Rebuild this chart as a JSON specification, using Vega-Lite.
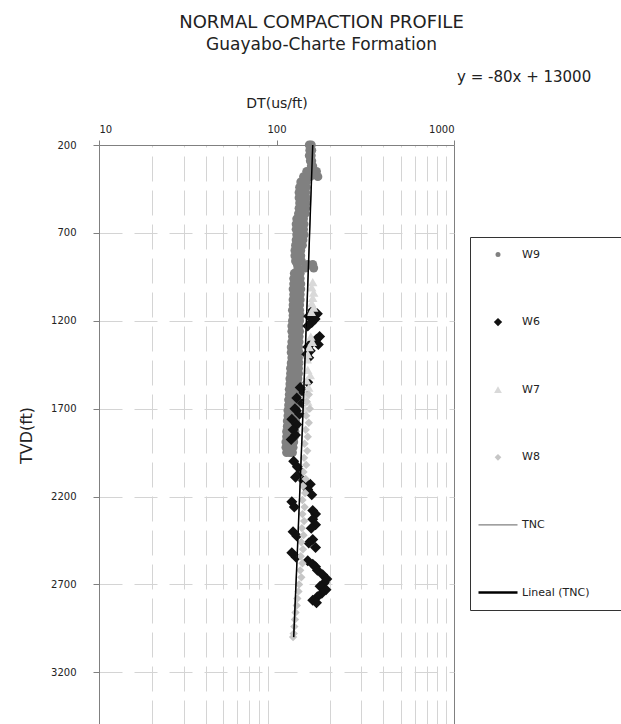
{
  "$schema": "https://vega.github.io/schema/vega-lite/v6.json",
  "width": 355,
  "height": 580,
  "autosize": "none",
  "padding": {"left": 99, "top": 145, "right": 167, "bottom": 0},
  "background": "white",
  "config": {
    "font": "DejaVu Sans",
    "view": {"stroke": "#808080", "strokeWidth": 1}
  },
  "title": {
    "text": "NORMAL COMPACTION PROFILE",
    "subtitle": "Guayabo-Charte Formation",
    "anchor": "middle",
    "frame": "group",
    "dx": 45,
    "offset": 17,
    "fontSize": 18,
    "subtitleFontSize": 17,
    "fontWeight": "normal",
    "color": "#222222",
    "subtitleColor": "#222222",
    "subtitlePadding": 5
  },
  "datasets": {
    "pts": [
      {"Series":"W9","DT":153,"TVD":200},{"Series":"W9","DT":157,"TVD":200},
      {"Series":"W9","DT":154,"TVD":230},{"Series":"W9","DT":158,"TVD":230},
      {"Series":"W9","DT":153,"TVD":260},{"Series":"W9","DT":157,"TVD":260},
      {"Series":"W9","DT":155,"TVD":290},{"Series":"W9","DT":158,"TVD":290},
      {"Series":"W9","DT":157,"TVD":320},{"Series":"W9","DT":160,"TVD":320},
      {"Series":"W9","DT":148,"TVD":350},{"Series":"W9","DT":160,"TVD":350},{"Series":"W9","DT":168,"TVD":350},
      {"Series":"W9","DT":142,"TVD":380},{"Series":"W9","DT":155,"TVD":380},{"Series":"W9","DT":171,"TVD":380},
      {"Series":"W9","DT":137,"TVD":410},{"Series":"W9","DT":142,"TVD":410},{"Series":"W9","DT":147,"TVD":410},
      {"Series":"W9","DT":135,"TVD":440},{"Series":"W9","DT":141,"TVD":440},{"Series":"W9","DT":147,"TVD":440},
      {"Series":"W9","DT":134,"TVD":470},{"Series":"W9","DT":140,"TVD":470},{"Series":"W9","DT":146,"TVD":470},
      {"Series":"W9","DT":134,"TVD":500},{"Series":"W9","DT":140,"TVD":500},{"Series":"W9","DT":147,"TVD":500},
      {"Series":"W9","DT":135,"TVD":530},{"Series":"W9","DT":141,"TVD":530},{"Series":"W9","DT":147,"TVD":530},
      {"Series":"W9","DT":134,"TVD":560},{"Series":"W9","DT":140,"TVD":560},{"Series":"W9","DT":146,"TVD":560},
      {"Series":"W9","DT":133,"TVD":590},{"Series":"W9","DT":139,"TVD":590},{"Series":"W9","DT":145,"TVD":590},
      {"Series":"W9","DT":130,"TVD":620},{"Series":"W9","DT":136,"TVD":620},{"Series":"W9","DT":142,"TVD":620},
      {"Series":"W9","DT":129,"TVD":650},{"Series":"W9","DT":135,"TVD":650},{"Series":"W9","DT":143,"TVD":650},
      {"Series":"W9","DT":129,"TVD":680},{"Series":"W9","DT":136,"TVD":680},{"Series":"W9","DT":142,"TVD":680},
      {"Series":"W9","DT":130,"TVD":710},{"Series":"W9","DT":136,"TVD":710},{"Series":"W9","DT":143,"TVD":710},
      {"Series":"W9","DT":129,"TVD":740},{"Series":"W9","DT":135,"TVD":740},{"Series":"W9","DT":141,"TVD":740},
      {"Series":"W9","DT":128,"TVD":770},{"Series":"W9","DT":134,"TVD":770},{"Series":"W9","DT":140,"TVD":770},
      {"Series":"W9","DT":127,"TVD":800},{"Series":"W9","DT":132,"TVD":800},{"Series":"W9","DT":137,"TVD":800},
      {"Series":"W9","DT":127,"TVD":830},{"Series":"W9","DT":131,"TVD":830},{"Series":"W9","DT":137,"TVD":830},
      {"Series":"W9","DT":128,"TVD":860},{"Series":"W9","DT":132,"TVD":860},{"Series":"W9","DT":138,"TVD":860},
      {"Series":"W9","DT":131,"TVD":880},{"Series":"W9","DT":150,"TVD":880},{"Series":"W9","DT":160,"TVD":880},
      {"Series":"W9","DT":132,"TVD":900},{"Series":"W9","DT":145,"TVD":900},{"Series":"W9","DT":162,"TVD":900},
      {"Series":"W9","DT":126,"TVD":930},{"Series":"W9","DT":131,"TVD":930},{"Series":"W9","DT":136,"TVD":930},
      {"Series":"W9","DT":125,"TVD":960},{"Series":"W9","DT":130,"TVD":960},{"Series":"W9","DT":136,"TVD":960},
      {"Series":"W9","DT":125,"TVD":990},{"Series":"W9","DT":131,"TVD":990},{"Series":"W9","DT":137,"TVD":990},
      {"Series":"W9","DT":124,"TVD":1020},{"Series":"W9","DT":130,"TVD":1020},{"Series":"W9","DT":137,"TVD":1020},
      {"Series":"W9","DT":125,"TVD":1050},{"Series":"W9","DT":130,"TVD":1050},{"Series":"W9","DT":136,"TVD":1050},
      {"Series":"W9","DT":124,"TVD":1080},{"Series":"W9","DT":129,"TVD":1080},{"Series":"W9","DT":136,"TVD":1080},
      {"Series":"W9","DT":124,"TVD":1110},{"Series":"W9","DT":130,"TVD":1110},{"Series":"W9","DT":135,"TVD":1110},
      {"Series":"W9","DT":123,"TVD":1140},{"Series":"W9","DT":129,"TVD":1140},{"Series":"W9","DT":135,"TVD":1140},
      {"Series":"W9","DT":124,"TVD":1170},{"Series":"W9","DT":128,"TVD":1170},{"Series":"W9","DT":136,"TVD":1170},
      {"Series":"W9","DT":123,"TVD":1200},{"Series":"W9","DT":128,"TVD":1200},{"Series":"W9","DT":135,"TVD":1200},
      {"Series":"W9","DT":122,"TVD":1230},{"Series":"W9","DT":129,"TVD":1230},{"Series":"W9","DT":134,"TVD":1230},
      {"Series":"W9","DT":122,"TVD":1260},{"Series":"W9","DT":128,"TVD":1260},{"Series":"W9","DT":135,"TVD":1260},
      {"Series":"W9","DT":123,"TVD":1290},{"Series":"W9","DT":127,"TVD":1290},{"Series":"W9","DT":134,"TVD":1290},
      {"Series":"W9","DT":122,"TVD":1320},{"Series":"W9","DT":127,"TVD":1320},{"Series":"W9","DT":134,"TVD":1320},
      {"Series":"W9","DT":121,"TVD":1350},{"Series":"W9","DT":128,"TVD":1350},{"Series":"W9","DT":133,"TVD":1350},
      {"Series":"W9","DT":121,"TVD":1380},{"Series":"W9","DT":127,"TVD":1380},{"Series":"W9","DT":134,"TVD":1380},
      {"Series":"W9","DT":122,"TVD":1410},{"Series":"W9","DT":126,"TVD":1410},{"Series":"W9","DT":133,"TVD":1410},
      {"Series":"W9","DT":121,"TVD":1440},{"Series":"W9","DT":126,"TVD":1440},{"Series":"W9","DT":134,"TVD":1440},
      {"Series":"W9","DT":120,"TVD":1470},{"Series":"W9","DT":127,"TVD":1470},{"Series":"W9","DT":133,"TVD":1470},
      {"Series":"W9","DT":120,"TVD":1500},{"Series":"W9","DT":126,"TVD":1500},{"Series":"W9","DT":133,"TVD":1500},
      {"Series":"W9","DT":119,"TVD":1530},{"Series":"W9","DT":125,"TVD":1530},{"Series":"W9","DT":132,"TVD":1530},
      {"Series":"W9","DT":119,"TVD":1560},{"Series":"W9","DT":125,"TVD":1560},{"Series":"W9","DT":132,"TVD":1560},
      {"Series":"W9","DT":118,"TVD":1590},{"Series":"W9","DT":124,"TVD":1590},{"Series":"W9","DT":131,"TVD":1590},
      {"Series":"W9","DT":118,"TVD":1620},{"Series":"W9","DT":124,"TVD":1620},{"Series":"W9","DT":131,"TVD":1620},
      {"Series":"W9","DT":117,"TVD":1650},{"Series":"W9","DT":123,"TVD":1650},{"Series":"W9","DT":130,"TVD":1650},
      {"Series":"W9","DT":117,"TVD":1680},{"Series":"W9","DT":123,"TVD":1680},{"Series":"W9","DT":130,"TVD":1680},
      {"Series":"W9","DT":116,"TVD":1710},{"Series":"W9","DT":122,"TVD":1710},{"Series":"W9","DT":129,"TVD":1710},
      {"Series":"W9","DT":116,"TVD":1740},{"Series":"W9","DT":122,"TVD":1740},{"Series":"W9","DT":129,"TVD":1740},
      {"Series":"W9","DT":115,"TVD":1770},{"Series":"W9","DT":121,"TVD":1770},{"Series":"W9","DT":128,"TVD":1770},
      {"Series":"W9","DT":115,"TVD":1800},{"Series":"W9","DT":121,"TVD":1800},{"Series":"W9","DT":128,"TVD":1800},
      {"Series":"W9","DT":114,"TVD":1830},{"Series":"W9","DT":120,"TVD":1830},{"Series":"W9","DT":127,"TVD":1830},
      {"Series":"W9","DT":114,"TVD":1860},{"Series":"W9","DT":120,"TVD":1860},{"Series":"W9","DT":126,"TVD":1860},
      {"Series":"W9","DT":113,"TVD":1890},{"Series":"W9","DT":119,"TVD":1890},{"Series":"W9","DT":125,"TVD":1890},
      {"Series":"W9","DT":113,"TVD":1920},{"Series":"W9","DT":118,"TVD":1920},{"Series":"W9","DT":124,"TVD":1920},
      {"Series":"W9","DT":114,"TVD":1950},{"Series":"W9","DT":119,"TVD":1950},{"Series":"W9","DT":123,"TVD":1950},

      {"Series":"W6","DT":160,"TVD":1140},{"Series":"W6","DT":170,"TVD":1160},{"Series":"W6","DT":152,"TVD":1175},
      {"Series":"W6","DT":165,"TVD":1190},{"Series":"W6","DT":158,"TVD":1210},{"Series":"W6","DT":150,"TVD":1230},
      {"Series":"W6","DT":175,"TVD":1290},{"Series":"W6","DT":168,"TVD":1305},{"Series":"W6","DT":160,"TVD":1320},
      {"Series":"W6","DT":172,"TVD":1335},{"Series":"W6","DT":150,"TVD":1350},{"Series":"W6","DT":155,"TVD":1370},
      {"Series":"W6","DT":148,"TVD":1390},{"Series":"W6","DT":152,"TVD":1410},
      {"Series":"W6","DT":150,"TVD":1550},{"Series":"W6","DT":136,"TVD":1580},{"Series":"W6","DT":143,"TVD":1610},
      {"Series":"W6","DT":130,"TVD":1640},{"Series":"W6","DT":140,"TVD":1670},{"Series":"W6","DT":127,"TVD":1700},
      {"Series":"W6","DT":135,"TVD":1730},{"Series":"W6","DT":122,"TVD":1760},{"Series":"W6","DT":130,"TVD":1790},
      {"Series":"W6","DT":124,"TVD":1820},{"Series":"W6","DT":128,"TVD":1850},{"Series":"W6","DT":121,"TVD":1875},
      {"Series":"W6","DT":125,"TVD":2000},{"Series":"W6","DT":131,"TVD":2030},{"Series":"W6","DT":137,"TVD":2060},
      {"Series":"W6","DT":128,"TVD":2090},{"Series":"W6","DT":142,"TVD":2110},{"Series":"W6","DT":155,"TVD":2130},
      {"Series":"W6","DT":150,"TVD":2160},{"Series":"W6","DT":158,"TVD":2190},
      {"Series":"W6","DT":122,"TVD":2230},{"Series":"W6","DT":126,"TVD":2260},{"Series":"W6","DT":160,"TVD":2280},
      {"Series":"W6","DT":166,"TVD":2300},{"Series":"W6","DT":160,"TVD":2330},{"Series":"W6","DT":166,"TVD":2360},
      {"Series":"W6","DT":157,"TVD":2380},{"Series":"W6","DT":124,"TVD":2400},{"Series":"W6","DT":130,"TVD":2425},
      {"Series":"W6","DT":160,"TVD":2445},{"Series":"W6","DT":152,"TVD":2465},{"Series":"W6","DT":166,"TVD":2490},
      {"Series":"W6","DT":122,"TVD":2520},{"Series":"W6","DT":129,"TVD":2545},{"Series":"W6","DT":150,"TVD":2565},
      {"Series":"W6","DT":160,"TVD":2585},{"Series":"W6","DT":166,"TVD":2600},
      {"Series":"W6","DT":170,"TVD":2620},{"Series":"W6","DT":182,"TVD":2645},{"Series":"W6","DT":192,"TVD":2670},
      {"Series":"W6","DT":186,"TVD":2690},{"Series":"W6","DT":176,"TVD":2710},{"Series":"W6","DT":190,"TVD":2730},
      {"Series":"W6","DT":180,"TVD":2750},{"Series":"W6","DT":170,"TVD":2770},{"Series":"W6","DT":160,"TVD":2790},
      {"Series":"W6","DT":168,"TVD":2805},

      {"Series":"W7","DT":160,"TVD":980},{"Series":"W7","DT":158,"TVD":1010},{"Series":"W7","DT":162,"TVD":1040},
      {"Series":"W7","DT":160,"TVD":1070},{"Series":"W7","DT":158,"TVD":1100},{"Series":"W7","DT":162,"TVD":1125},
      {"Series":"W7","DT":157,"TVD":1150},{"Series":"W7","DT":156,"TVD":1290},{"Series":"W7","DT":159,"TVD":1320},
      {"Series":"W7","DT":153,"TVD":1350},{"Series":"W7","DT":150,"TVD":1390},{"Series":"W7","DT":149,"TVD":1420},
      {"Series":"W7","DT":150,"TVD":1480},{"Series":"W7","DT":155,"TVD":1510},{"Series":"W7","DT":148,"TVD":1540},
      {"Series":"W7","DT":152,"TVD":1580},{"Series":"W7","DT":146,"TVD":1620},{"Series":"W7","DT":150,"TVD":1660},
      {"Series":"W7","DT":145,"TVD":1700},

      {"Series":"W8","DT":152,"TVD":1620},{"Series":"W8","DT":148,"TVD":1660},{"Series":"W8","DT":154,"TVD":1700},
      {"Series":"W8","DT":147,"TVD":1740},{"Series":"W8","DT":152,"TVD":1780},{"Series":"W8","DT":146,"TVD":1820},
      {"Series":"W8","DT":150,"TVD":1860},{"Series":"W8","DT":144,"TVD":1900},{"Series":"W8","DT":149,"TVD":1940},
      {"Series":"W8","DT":143,"TVD":1980},{"Series":"W8","DT":147,"TVD":2020},{"Series":"W8","DT":142,"TVD":2060},
      {"Series":"W8","DT":146,"TVD":2100},{"Series":"W8","DT":141,"TVD":2140},{"Series":"W8","DT":145,"TVD":2180},
      {"Series":"W8","DT":140,"TVD":2220},{"Series":"W8","DT":144,"TVD":2260},{"Series":"W8","DT":140,"TVD":2300},
      {"Series":"W8","DT":143,"TVD":2340},{"Series":"W8","DT":139,"TVD":2380},{"Series":"W8","DT":142,"TVD":2420},
      {"Series":"W8","DT":138,"TVD":2460},{"Series":"W8","DT":141,"TVD":2500},{"Series":"W8","DT":137,"TVD":2540},
      {"Series":"W8","DT":140,"TVD":2580},{"Series":"W8","DT":136,"TVD":2620},{"Series":"W8","DT":138,"TVD":2660},
      {"Series":"W8","DT":134,"TVD":2700},{"Series":"W8","DT":133,"TVD":2740},{"Series":"W8","DT":131,"TVD":2780},
      {"Series":"W8","DT":130,"TVD":2820},{"Series":"W8","DT":128,"TVD":2860},{"Series":"W8","DT":127,"TVD":2900},
      {"Series":"W8","DT":126,"TVD":2940},{"Series":"W8","DT":125,"TVD":2980},{"Series":"W8","DT":124,"TVD":3000}
    ],
    "lines": [
      {"Series":"TNC","DT":160,"TVD":200},{"Series":"TNC","DT":150,"TVD":1000},{"Series":"TNC","DT":140,"TVD":1800},
      {"Series":"TNC","DT":130,"TVD":2600},{"Series":"TNC","DT":125,"TVD":3000},
      {"Series":"Lineal (TNC)","DT":160,"TVD":200},{"Series":"Lineal (TNC)","DT":150,"TVD":1000},
      {"Series":"Lineal (TNC)","DT":140,"TVD":1800},{"Series":"Lineal (TNC)","DT":130,"TVD":2600},
      {"Series":"Lineal (TNC)","DT":125,"TVD":3000}
    ],
    "ann": [
      {"label":"y = -80x + 13000","DT":1000,"TVD":200}
    ]
  },
  "resolve": {"axis": {"x": "independent", "y": "independent"}},
  "encoding": {
    "color": {"field": "Series", "type": "nominal",
      "scale": {"domain": ["W9","W6","W7","W8","TNC","Lineal (TNC)"], "range": ["#808080","#111111","#d9d9d9","#c6c6c6","#808080","#000000"]},
      "legend": {
        "title": "WW", "titleOrient": "right", "titleOpacity": 0, "titleFontSize": 11, "titlePadding": 5,
        "orient": "none", "legendX": 371, "legendY": 92,
        "strokeColor": "#333333", "padding": 12, "rowPadding": 55.6,
        "symbolSize": 1521, "symbolStrokeWidth": 1.5,
        "labelFontSize": 11, "labelColor": "#222222", "labelOffset": 18.5, "symbolOffset": 10.5,
        "encode": {"symbols": {"update": {
          "shape": {"signal": "scale('shape', datum.value)"},
          "size": {"signal": "datum.value === 'W9' ? 25 : datum.value === 'W6' ? 70 : datum.value === 'W7' ? 60 : datum.value === 'W8' ? 45 : 1521"},
          "fill": {"signal": "scale('color', datum.value)"},
          "stroke": {"signal": "scale('color', datum.value)"},
          "strokeWidth": {"signal": "datum.value === 'Lineal (TNC)' ? 2.5 : datum.value === 'TNC' ? 1.2 : 0"},
          "opacity": {"value": 1}
        }}}
      }},
    "shape": {"field": "Series", "type": "nominal",
      "scale": {"domain": ["W9","W6","W7","W8","TNC","Lineal (TNC)"], "range": ["circle","diamond","triangle-up","diamond","stroke","stroke"]},
      "legend": null}
  },
  "layer": [
    {
      "data": {"name": "lines"},
      "mark": {"type": "rule", "opacity": 0},
      "encoding": {
        "x": {"field": "DT", "type": "quantitative", "scale": {"type": "log", "domain": [10, 1000]},
          "axis": {"orient": "bottom", "values": [20,30,40,50,60,70,80,90,200,300,400,500,600,700,800,900],
            "grid": true, "gridColor": "#d4d4d4", "gridDash": [25, 9], "gridWidth": 1,
            "domain": false, "ticks": false, "labels": false, "title": null}},
        "y": {"field": "TVD", "type": "quantitative", "scale": {"domain": [200, 3500], "reverse": true, "nice": false, "zero": false},
          "axis": {"orient": "left", "values": [200,700,1200,1700,2200,2700,3200], "format": "d",
            "grid": true, "gridColor": "#d4d4d4", "gridDash": [23, 12], "gridWidth": 1,
            "domainColor": "#808080", "tickColor": "#808080", "tickSize": 6,
            "labelFontSize": 10, "labelColor": "#222222", "labelPadding": 17,
            "title": "TVD(ft)", "titleFontSize": 16, "titleFontWeight": "normal", "titleColor": "#222222", "titlePadding": 16}}
      }
    },
    {
      "data": {"name": "pts"},
      "transform": [{"filter": "datum.Series === 'W9'"}],
      "mark": {"type": "point", "filled": true, "opacity": 1, "size": 80},
      "encoding": {
        "x": {"field": "DT", "type": "quantitative",
          "axis": {"orient": "top", "values": [10, 100, 1000], "format": "d", "grid": false,
            "domainColor": "#808080", "tickColor": "#808080", "tickSize": 5,
            "labelFontSize": 10, "labelColor": "#222222", "labelPadding": 6,
            "title": "DT(us/ft)", "titleFontSize": 14, "titleFontWeight": "normal", "titleColor": "#222222", "titlePadding": 14}},
        "y": {"field": "TVD", "type": "quantitative", "axis": null}
      }
    },
    {
      "data": {"name": "pts"},
      "transform": [{"filter": "datum.Series === 'W6'"}],
      "mark": {"type": "point", "filled": true, "opacity": 1, "size": 121},
      "encoding": {
        "x": {"field": "DT", "type": "quantitative", "axis": null},
        "y": {"field": "TVD", "type": "quantitative", "axis": null}
      }
    },
    {
      "data": {"name": "pts"},
      "transform": [{"filter": "datum.Series === 'W7'"}],
      "mark": {"type": "point", "filled": true, "opacity": 1, "size": 90},
      "encoding": {
        "x": {"field": "DT", "type": "quantitative", "axis": null},
        "y": {"field": "TVD", "type": "quantitative", "axis": null}
      }
    },
    {
      "data": {"name": "pts"},
      "transform": [{"filter": "datum.Series === 'W8'"}],
      "mark": {"type": "point", "filled": true, "opacity": 1, "size": 70},
      "encoding": {
        "x": {"field": "DT", "type": "quantitative", "axis": null},
        "y": {"field": "TVD", "type": "quantitative", "axis": null}
      }
    },
    {
      "data": {"name": "lines"},
      "mark": {"type": "line"},
      "encoding": {
        "x": {"field": "DT", "type": "quantitative", "axis": null},
        "y": {"field": "TVD", "type": "quantitative", "axis": null},
        "order": {"field": "TVD", "type": "quantitative"},
        "strokeWidth": {"field": "Series", "type": "nominal", "scale": {"domain": ["TNC", "Lineal (TNC)"], "range": [1, 1.5]}, "legend": null}
      }
    },
    {
      "data": {"name": "ann"},
      "mark": {"type": "text", "align": "left", "baseline": "alphabetic", "dx": 3, "dy": -63, "fontSize": 15},
      "encoding": {
        "x": {"field": "DT", "type": "quantitative", "axis": null},
        "y": {"field": "TVD", "type": "quantitative", "axis": null},
        "text": {"field": "label"},
        "color": {"value": "#222222"}
      }
    }
  ]
}
